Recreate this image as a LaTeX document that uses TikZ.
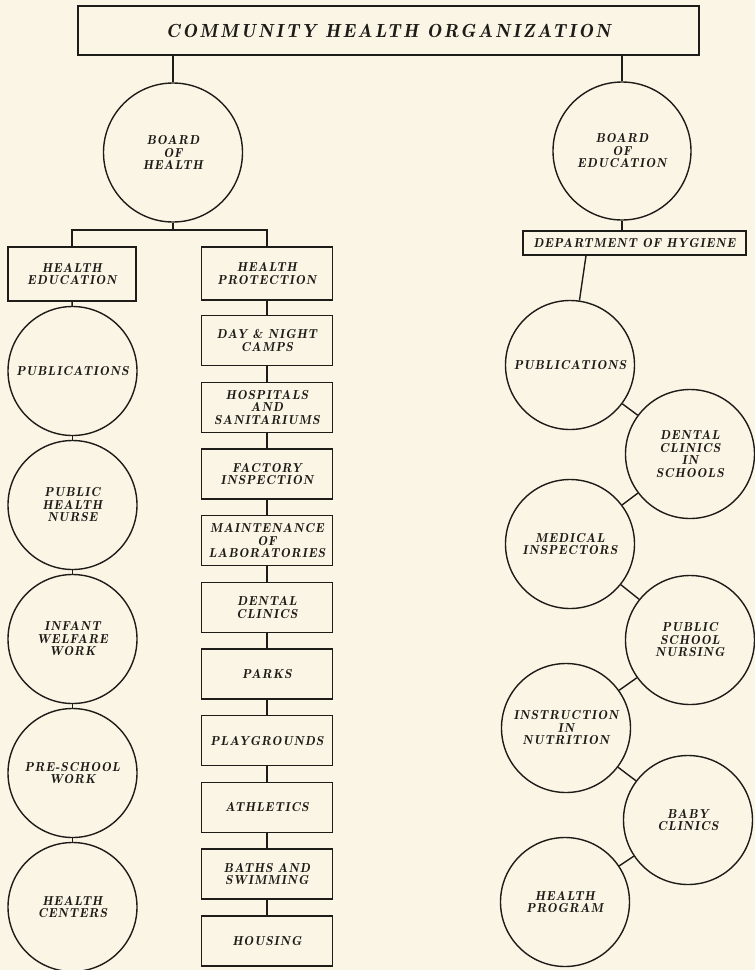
\documentclass[tikz,border=0pt]{standalone}
\usepackage{fontspec}
\newfontfamily\orgfam{lmromandemi10-oblique.otf}[LetterSpace=8]
\newfontfamily\orgtitlefam{lmromandemi10-oblique.otf}[LetterSpace=14]
\definecolor{paper}{RGB}{250,245,228}
\definecolor{ink}{RGB}{30,28,25}
\newcommand\chartfont{\orgfam\fontsize{13}{12.5}\selectfont}
\newcommand\titlefont{\orgtitlefam\fontsize{19}{22}\selectfont}

\begin{document}
\begin{tikzpicture}[
    x=1pt, y=-1pt,
    color=ink, line width=1.4pt,
    orgbox/.style={draw, rectangle, minimum width=131pt, minimum height=50pt,
        inner sep=0pt, align=center, font=\chartfont},
    orgdisc/.style={draw, circle, minimum size=129pt, inner sep=0pt,
        align=center, font=\chartfont}
]
\fill[paper] (0,0) rectangle (755,970);
\useasboundingbox (0,0) rectangle (755,970);

\node[orgbox, minimum width=621pt, minimum height=49pt, font=\titlefont] (title) at (388.5,30.5) {COMMUNITY HEALTH ORGANIZATION};
\node[orgdisc, minimum size=139pt] (boh) at (173,152.5) {BOARD\\OF\\HEALTH};
\node[orgdisc, minimum size=138pt] (boe) at (622,151) {BOARD\\OF\\EDUCATION};
\draw (boh.north |- title.south) -- (boh);
\draw (boe.north |- title.south) -- (boe);

\coordinate (fork) at (173,230);
\node[orgbox, minimum width=128pt, minimum height=54pt] (he) at (72,274) {HEALTH\\EDUCATION};
\node[orgbox, minimum height=53pt] (hp) at (267,273.5) {HEALTH\\PROTECTION};
\draw (boh) -- (fork);
\draw (he) |- (fork) -| (hp);

\foreach \txt [count=\i] in {PUBLICATIONS, {PUBLIC\\HEALTH\\NURSE}, {INFANT\\WELFARE\\WORK},
    {PRE-SCHOOL\\WORK}, {HEALTH\\CENTERS}}{
    \node[orgdisc] (ed\i) at (72.5,{237+134*\i}) {\txt};
}
\draw (he) -- (ed1);
\foreach \a [count=\b from 2] in {1,...,4}{
    \draw (ed\a) -- (ed\b);
}

\foreach \txt [count=\i] in {{DAY \& NIGHT\\CAMPS}, {HOSPITALS\\AND\\SANITARIUMS}, {FACTORY\\INSPECTION},
    {MAINTENANCE\\OF\\LABORATORIES}, {DENTAL\\CLINICS}, PARKS, PLAYGROUNDS, ATHLETICS,
    {BATHS AND\\SWIMMING}, HOUSING}{
    \node[orgbox] (pr\i) at (267,{273.8+66.7*\i}) {\txt};
}
\draw (hp) -- (pr1);
\foreach \a [count=\b from 2] in {1,...,9}{
    \draw (pr\a) -- (pr\b);
}

\node[orgbox, minimum width=223pt, minimum height=24pt] (dept) at (634.5,243) {DEPARTMENT OF HYGIENE};
\draw (boe) -- (boe.south |- dept.north);
\foreach \x/\y/\txt [count=\i] in {570/365/PUBLICATIONS, 690/454/{DENTAL\\CLINICS\\IN\\SCHOOLS},
    570/544/{MEDICAL\\INSPECTORS}, 690/640/{PUBLIC\\SCHOOL\\NURSING}, 566/728/{INSTRUCTION\\IN\\NUTRITION},
    688/820/{BABY\\CLINICS}, 565/902/{HEALTH\\PROGRAM}}{
    \node[orgdisc] (hy\i) at (\x,\y) {\txt};
}
\draw ([xshift=-48.5pt]dept.south) -- (hy1);
\foreach \a [count=\b from 2] in {1,...,6}{
    \draw (hy\a) -- (hy\b);
}
\end{tikzpicture}
\end{document}
